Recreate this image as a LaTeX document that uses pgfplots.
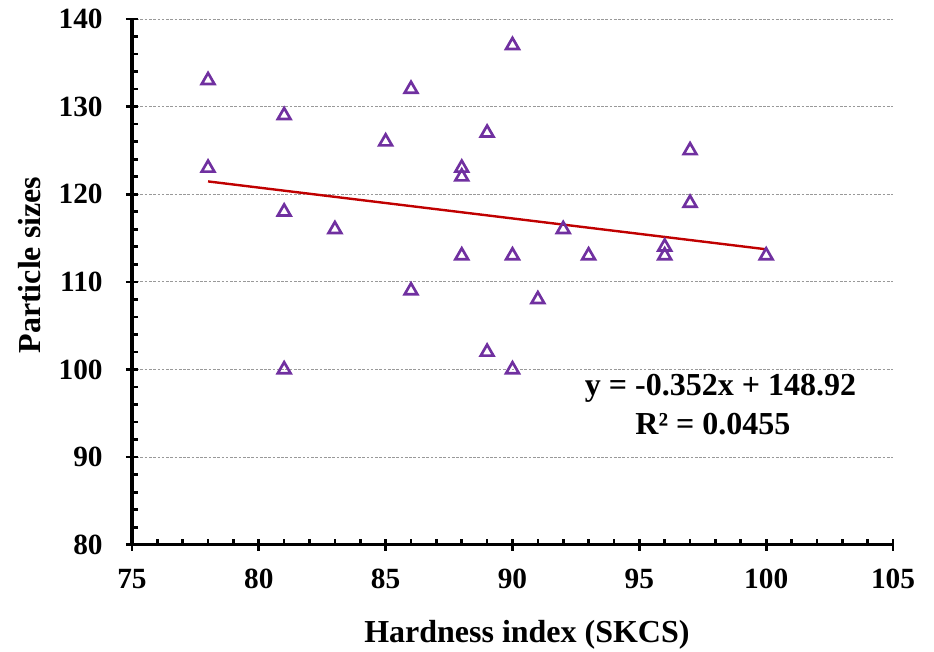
\documentclass[border=0pt]{standalone}
\usepackage{fontspec}
\setmainfont{Liberation Serif}
\usepackage{pgfplots}
\pgfplotsset{compat=1.18}
\definecolor{mpurple}{HTML}{7030A0}
\definecolor{mred}{HTML}{C00000}
\begin{document}
\begin{tikzpicture}
\begin{axis}[
  scale only axis,
  width=571pt, height=394.5pt,
  xmin=75, xmax=105, ymin=80, ymax=140,
  xtick={75,80,...,105}, ytick={80,90,...,140},
  minor x tick num=4, minor y tick num=4,
  axis lines=left,
  axis line style={line width=2.4pt, -},
  tick align=center,
  major tick length=9pt,
  minor tick length=4.5pt,
  every tick/.style={black, line width=2pt},
  every minor x tick/.append style={yshift=2.25pt},
  every minor y tick/.append style={xshift=2.25pt},
  ymajorgrids,
  major grid style={gray!80, line width=0.6pt, dash pattern=on 2pt off 1.2pt},
  /pgf/number format/assume math mode=true,
  tick label style={font=\bfseries\fontsize{22}{26}\selectfont},
  xticklabel style={yshift=-10pt},
  yticklabel style={xshift=-14pt},
  xlabel={Hardness index (SKCS)},
  ylabel={Particle sizes},
  label style={font=\bfseries\fontsize{24}{28}\selectfont},
  xlabel style={at={(axis description cs:0.519,-0.172)}, anchor=center},
  ylabel style={at={(axis description cs:-0.134,0.532)}, anchor=center},
  clip=false,
]
\addplot[only marks, mark=triangle, mark size=5.5pt, mark options={draw=mpurple, line width=2pt, fill=none}] coordinates {
(78,133) (78,123) (81,129) (81,118) (81,100) (83,116) (85,126) (86,132) (86,109)
(88,123) (88,122) (88,113) (89,127) (89,102) (90,137) (90,113) (90,100) (91,108)
(92,116) (93,113) (96,114) (96,113) (97,125) (97,119) (100,113)
};
\addplot[mred, line width=1.8pt, no marks] coordinates {(78,121.464) (100,113.72)};
\node[font=\bfseries\fontsize{24}{28}\selectfont, anchor=center] at (axis cs:98.2,97.9) {y = -0.352x + 148.92};
\node[font=\bfseries\fontsize{24}{28}\selectfont, anchor=center] at (axis cs:97.9,93.8) {R² = 0.0455};
\end{axis}
\pgfresetboundingbox
\path ([xshift=-99pt,yshift=-80.25pt]current axis.south west) rectangle ([xshift=30.75pt,yshift=14.25pt]current axis.north east);
\end{tikzpicture}
\end{document}
